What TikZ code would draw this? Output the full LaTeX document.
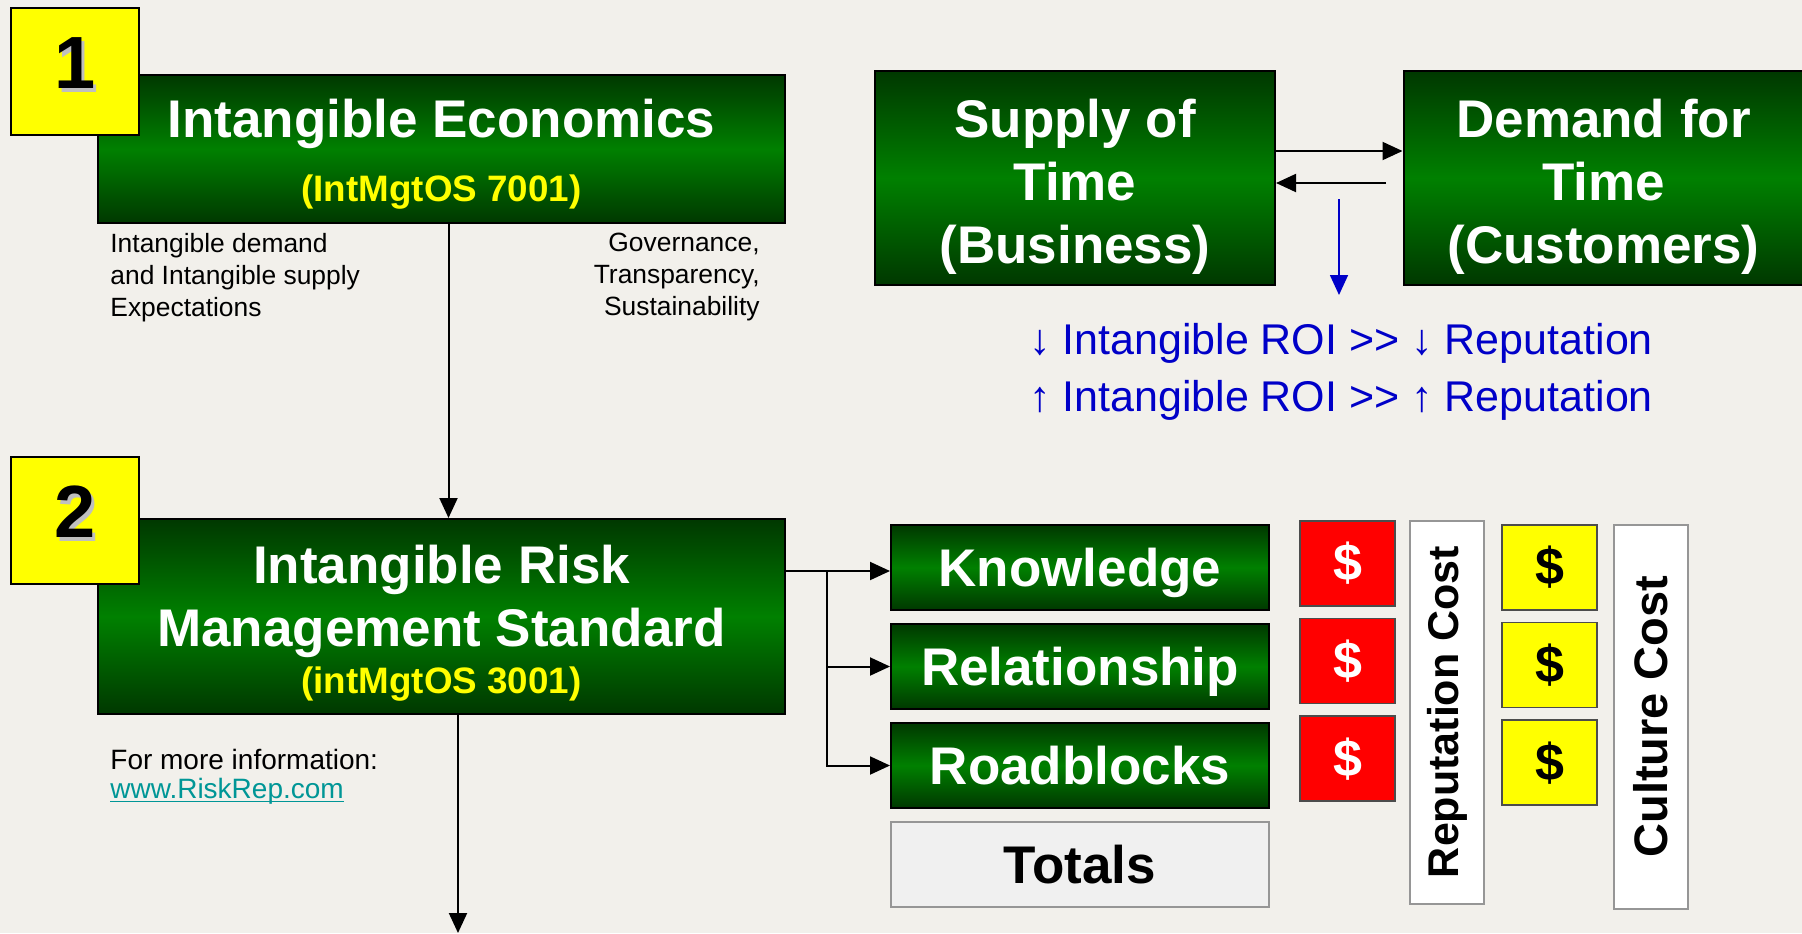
\documentclass[tikz,border=0pt]{standalone}
\usepackage{fontspec}
\setmainfont{Liberation Sans}
\usetikzlibrary{positioning,chains,arrows.meta}
\definecolor{paper}{RGB}{242,240,235}
\definecolor{IMdark}{RGB}{0,56,0}
\definecolor{IMgreen}{RGB}{0,128,0}
\definecolor{IMyellow}{RGB}{255,255,0}
\definecolor{IMred}{RGB}{255,0,0}
\definecolor{IMblue}{RGB}{0,0,200}
\definecolor{IMlink}{RGB}{0,150,150}
\definecolor{IMgrey}{RGB}{150,150,150}
\tikzset{
	>={Triangle[length=10pt,width=9pt]},
	greenbox/.style={
		rectangle,
		top color=IMdark,
		bottom color=IMdark,
		middle color=IMgreen,
		draw=black, line width=1pt,
		text=white,
		font=\bfseries\fontsize{26.5}{31.5}\selectfont,
		align=center,
		inner sep=0pt},
	stepbox/.style={greenbox, minimum width=343.5pt},
	timebox/.style={greenbox, minimum width=200pt, minimum height=107pt},
	itembox/.style={greenbox, minimum width=189pt, minimum height=42.5pt,
		text depth=0pt, on chain},
	totalbox/.style={
		rectangle, fill=black!6, draw=IMgrey, line width=1pt,
		font=\bfseries\fontsize{26.5}{31.5}\selectfont,
		minimum width=189pt, minimum height=42.5pt, inner sep=0pt,
		text depth=0pt, on chain},
	numbox/.style={
		rectangle, fill=IMyellow, draw=black, line width=1pt,
		minimum width=64pt, minimum height=63.5pt, inner sep=0pt,
		text depth=8pt,
		font=\bfseries\fontsize{37}{37}\selectfont},
	dollar/.style={
		rectangle, draw=black!70, line width=0.8pt,
		minimum width=47.5pt, minimum height=42.5pt, inner sep=0pt,
		font=\bfseries\fontsize{26}{26}\selectfont},
	costbox/.style={
		rectangle, fill=white, draw=IMgrey, line width=1pt, rotate=90,
		minimum height=37pt, inner sep=0pt,
		font=\bfseries\fontsize{21.5}{21.5}\selectfont},
	note/.style={inner sep=0pt, font=\fontsize{13.2}{16}\selectfont},
	line/.style={draw, line width=1pt, ->},
	roiline/.style={draw=IMblue, line width=0.8pt, ->},
}
\newcommand*\stepcode[1]{{\color{IMyellow}\fontsize{18.4}{22}\selectfont #1}}
\newcommand*\shadowed[1]{\makebox[0pt][l]{\hspace{1.6pt}\raisebox{-1.6pt}{\color{black!25}#1}}#1}
\newcommand*\topstrut[1]{\rule{0pt}{#1}}
\newcommand*\linktext[1]{\setbox0\hbox{#1}\rlap{\rule[-1.6pt]{\wd0}{0.6pt}}\box0}

\begin{document}
\begin{tikzpicture}[x=0.5pt,y=-0.5pt,node distance=6pt,start chain=going below]
\useasboundingbox (0,0) rectangle (1802,933);
\fill[paper] (0,0) rectangle (1802,933);

% step 1
\node[stepbox, minimum height=74pt] (econ) at (441.5,149)
	{\topstrut{24pt}Intangible Economics\\[0.5pt]\stepcode{(IntMgtOS 7001)}};
\node[numbox] (num1) at (75,71.5) {\shadowed{1}};
\node[note, align=left, anchor=north west] (demand) at (110,233)
	{Intangible demand\\and Intangible supply\\Expectations};
\node[note, align=right, anchor=north east] (govern) at (760,233)
	{Governance,\\Transparency,\\Sustainability};

% supply and demand of time
\node[timebox] (supply) at (1075,178) {\topstrut{27.6pt}Supply of\\Time\\(Business)};
\node[timebox] (custom) at (1603.5,178) {\topstrut{27.6pt}Demand for\\Time\\(Customers)};
\draw[line] ([yshift=13.5pt]supply.east) -- ([yshift=13.5pt]custom.west);
\coordinate (back) at (1386,183);
\draw[line] (back) -- (back -| supply.east);
\coordinate (roitop) at (1339,199);
\coordinate (roiend) at (1339,295);
\draw[roiline] (roitop) -- (roiend);
\node[text=IMblue, align=center, font=\fontsize{21.5}{28.5}\selectfont] (roi) at (1341,372)
	{↓ Intangible ROI >{}> ↓ Reputation\\↑ Intangible ROI >{}> ↑ Reputation};

% step 2
\node[stepbox, minimum height=97.5pt] (irms) at (441.5,616.5)
	{\topstrut{26.3pt}Intangible Risk\\Management Standard\\[-8pt]\stepcode{(intMgtOS 3001)}};
\node[numbox] (num2) at (75,520) {\shadowed{2}};
\node[note, align=left, anchor=north west, font=\fontsize{14}{14.5}\selectfont] (info) at (110,749)
	{For more information:\\{\color{IMlink}\linktext{www.RiskRep.com}}};
\draw[line] ([xshift=3.5pt]econ.south) -- ([xshift=3.5pt]irms.north);
\coordinate (next) at (458,933);
\draw[line] (irms.south -| next) -- (next);

% intangible items
\node[itembox] (know) at (1080,567.5) {Knowledge};
\node[itembox] (relat) {Relationship};
\node[itembox] (road) {Roadblocks};
\node[totalbox] (totals) {Totals};
\coordinate (fork) at (827,571);
\draw[line] (irms.east |- fork) -- (know.west |- fork);
\draw[line] (fork) |- (relat.west);
\draw[line] (fork) |- (road.west);

% costs
\node[dollar, fill=IMred, text=white] (rep1) at (1347.5,563.5) {\$};
\node[dollar, fill=IMred, text=white, below=5.5pt of rep1] (rep2) {\$};
\node[dollar, fill=IMred, text=white, below=5.5pt of rep2] (rep3) {\$};
\node[costbox, minimum width=191.5pt] (repcost) at (1447,712) {Reputation Cost};
\node[dollar, fill=IMyellow] (cul1) at (1549.5,567.5) {\$};
\node[dollar, fill=IMyellow, below=5.5pt of cul1] (cul2) {\$};
\node[dollar, fill=IMyellow, below=5.5pt of cul2] (cul3) {\$};
\node[costbox, minimum width=192pt, font=\bfseries\fontsize{23.5}{23.5}\selectfont] (culcost) at (1651,716.5) {Culture Cost};
\end{tikzpicture}
\end{document}
